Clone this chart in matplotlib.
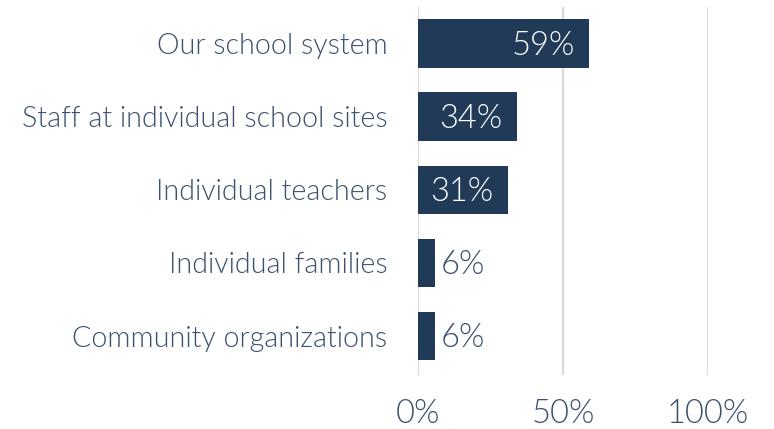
import matplotlib.pyplot as plt

categories = ['Our school system', 'Staff at individual school sites',
              'Individual teachers', 'Individual families',
              'Community organizations']
values = [59, 34, 31, 6, 6]
x_ticks = [0, 50, 100]
x_tick_labels = ['0%', '50%', '100%']

bar_color = '#213a58'
text_color = '#3b5170'
grid_color = '#d9d9d9'

plt.rcParams['font.family'] = ['Lato', 'DejaVu Sans']
plt.rcParams['font.weight'] = 300

fig = plt.figure(figsize=(7.74, 4.29), dpi=100)
ax = fig.add_axes([0.540, 0.126, 0.375, 0.858])

y_pos = range(len(categories))
ax.barh(y_pos, values, height=0.66, color=bar_color, zorder=3)

for y, v in zip(y_pos, values):
    if v > 20:
        ax.text(v - 5, y + 0.03, f'{v}%', ha='right', va='center',
                color='white', fontsize=23.5, fontweight=300, zorder=4)
    else:
        ax.text(v + 2, y + 0.03, f'{v}%', ha='left', va='center',
                color=text_color, fontsize=23.5, fontweight=300, zorder=4)

ax.set_xlim(0, 100)
ax.set_ylim(len(categories) - 0.47, -0.5)
ax.set_yticks(list(y_pos))
ax.set_yticklabels(categories, fontsize=20.6, color=text_color)
ax.set_xticks(x_ticks)
ax.set_xticklabels(x_tick_labels, fontsize=23.5, color=text_color)
ax.tick_params(axis='both', length=0)
ax.tick_params(axis='y', pad=22)
ax.tick_params(axis='x', pad=17)

for s in ax.spines.values():
    s.set_visible(False)
ax.grid(axis='x', color=grid_color, linewidth=1.6, zorder=0)
ax.set_axisbelow(True)

fig.savefig('out.png', dpi=100)
